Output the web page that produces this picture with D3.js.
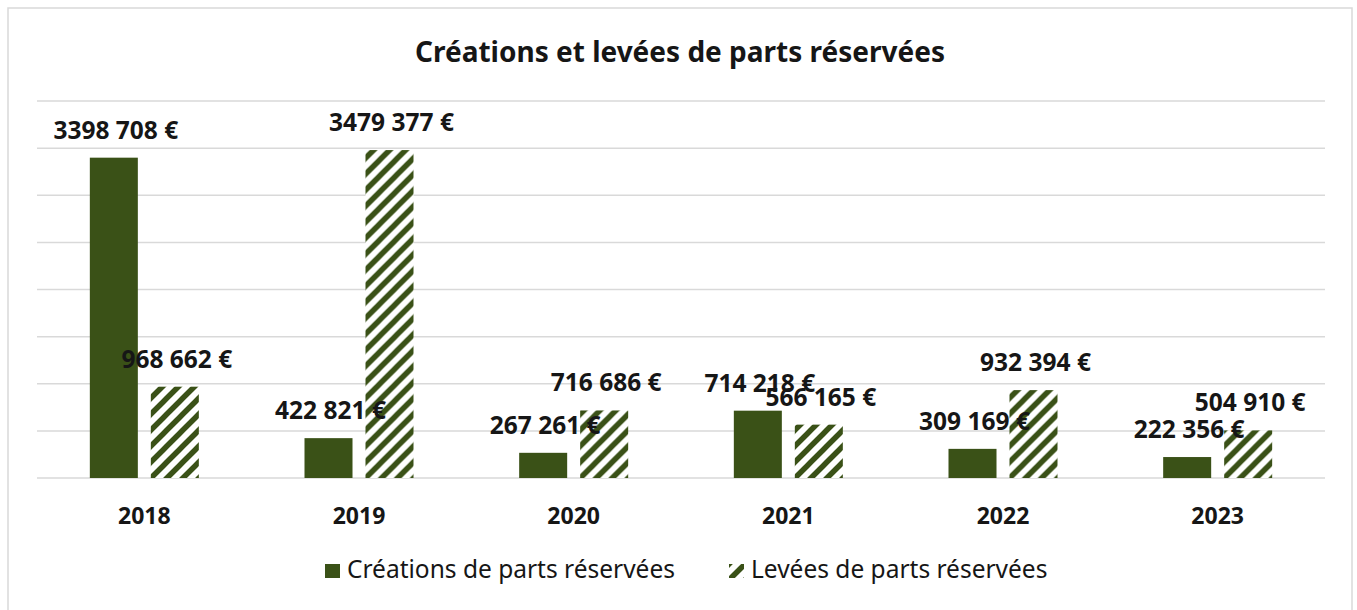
<!DOCTYPE html>
<html>
<head>
<meta charset="utf-8">
<script src="https://cdn.jsdelivr.net/npm/d3@7"></script>
<style>
  body { margin: 0; background: #fff; }
  svg text { font-family: "Noto Sans", Lato, sans-serif; fill: #161616; }
</style>
</head>
<body>
<div class="chart"></div>
<script>
// data
var years = ['2018', '2019', '2020', '2021', '2022', '2023'];
var creations = [3398708, 422821, 267261, 714218, 309169, 222356];
var levees = [968662, 3479377, 716686, 566165, 932394, 504910];
var seriesNames = ['Créations de parts réservées', 'Levées de parts réservées'];
var yTicks = [0, 500000, 1000000, 1500000, 2000000, 2500000, 3000000, 3500000, 4000000];

var W = 1357, H = 610;
var green = '#3a5117';

// the source only splits off the last three digits: "3398 708 €"
var fmt = function(v){
  var hi = Math.floor(v / 1000), lo = v % 1000;
  return hi + ' ' + d3.format('03d')(lo) + ' €';
};

var svg = d3.select('.chart')
  .append('svg')
  .attr('width', W)
  .attr('height', H);

// hatch for the "levées" series
var defs = svg.append('defs');
var pat = defs.append('pattern')
  .attr('id', 'hatch')
  .attr('patternUnits', 'userSpaceOnUse')
  .attr('width', 16)
  .attr('height', 16);
pat.append('rect').attr('width', 16).attr('height', 16).attr('fill', '#fff');
pat.append('path')
  .attr('d', 'M-4,4 L4,-4 M0,16 L16,0 M12,20 L20,12')
  .attr('stroke', green)
  .attr('stroke-width', 5.5);

// outer frame
svg.append('rect')
  .attr('x', 8).attr('y', 8)
  .attr('width', 1344).attr('height', 620)
  .attr('fill', 'none')
  .attr('stroke', '#d9d9d9')
  .attr('stroke-width', 1.5);

svg.append('text')
  .attr('x', 680).attr('y', 62)
  .attr('text-anchor', 'middle')
  .style('font-size', '28px')
  .style('font-weight', 'bold')
  .text('Créations et levées de parts réservées');

var x0 = d3.scaleBand().domain(years).range([37, 1325]);
var half = x0.bandwidth() / 2;
var x1 = d3.scaleBand().domain([0, 1])
  .range([half - 54.5, half + 54.5])
  .paddingInner(0.213);
var y = d3.scaleLinear().domain([0, 4000000]).range([478, 101]);

// gridlines
svg.selectAll('.grid')
  .data(yTicks)
  .enter()
  .append('line')
  .attr('class', 'grid')
  .attr('x1', 37).attr('x2', 1325)
  .attr('y1', function(d){ return y(d); })
  .attr('y2', function(d){ return y(d); })
  .attr('stroke', '#d9d9d9')
  .attr('stroke-width', 1.5);

var rows = years.map(function(yr, i){
  return { year: yr, vals: [creations[i], levees[i]] };
});

var groups = svg.selectAll('.yr')
  .data(rows)
  .enter()
  .append('g')
  .attr('class', 'yr')
  .attr('transform', function(d){ return 'translate(' + x0(d.year) + ',0)'; });

groups.selectAll('rect')
  .data(function(d){ return d.vals; })
  .enter()
  .append('rect')
  .attr('x', function(d, i){ return x1(i); })
  .attr('width', x1.bandwidth())
  .attr('y', function(d){ return y(d); })
  .attr('height', function(d){ return y(0) - y(d); })
  .attr('fill', function(d, i){ return i === 0 ? green : 'url(#hatch)'; });

groups.selectAll('.lbl')
  .data(function(d){ return d.vals; })
  .enter()
  .append('text')
  .attr('class', 'lbl')
  .attr('x', function(d, i){ return x1(i) + x1.bandwidth() / 2 + 2; })
  .attr('y', function(d){ return y(d) - 19; })
  .attr('text-anchor', 'middle')
  .style('font-size', '24.5px')
  .style('font-weight', 'bold')
  .text(function(d){ return fmt(d); });

// category axis
svg.selectAll('.cat')
  .data(years)
  .enter()
  .append('text')
  .attr('class', 'cat')
  .attr('x', function(d){ return x0(d) + half; })
  .attr('y', 524)
  .attr('text-anchor', 'middle')
  .style('font-size', '23px')
  .style('font-weight', 'bold')
  .text(function(d){ return d; });

// legend
var legX = [325, 729];
var leg = svg.selectAll('.leg')
  .data(seriesNames)
  .enter()
  .append('g')
  .attr('class', 'leg')
  .attr('transform', function(d, i){ return 'translate(' + legX[i] + ',564)'; });

leg.append('rect')
  .attr('width', 15).attr('height', 14)
  .attr('fill', function(d, i){ return i === 0 ? green : 'url(#hatch)'; });

leg.append('text')
  .attr('x', 22).attr('y', 14)
  .style('font-size', '24.5px')
  .text(function(d){ return d; });
</script>
</body>
</html>
